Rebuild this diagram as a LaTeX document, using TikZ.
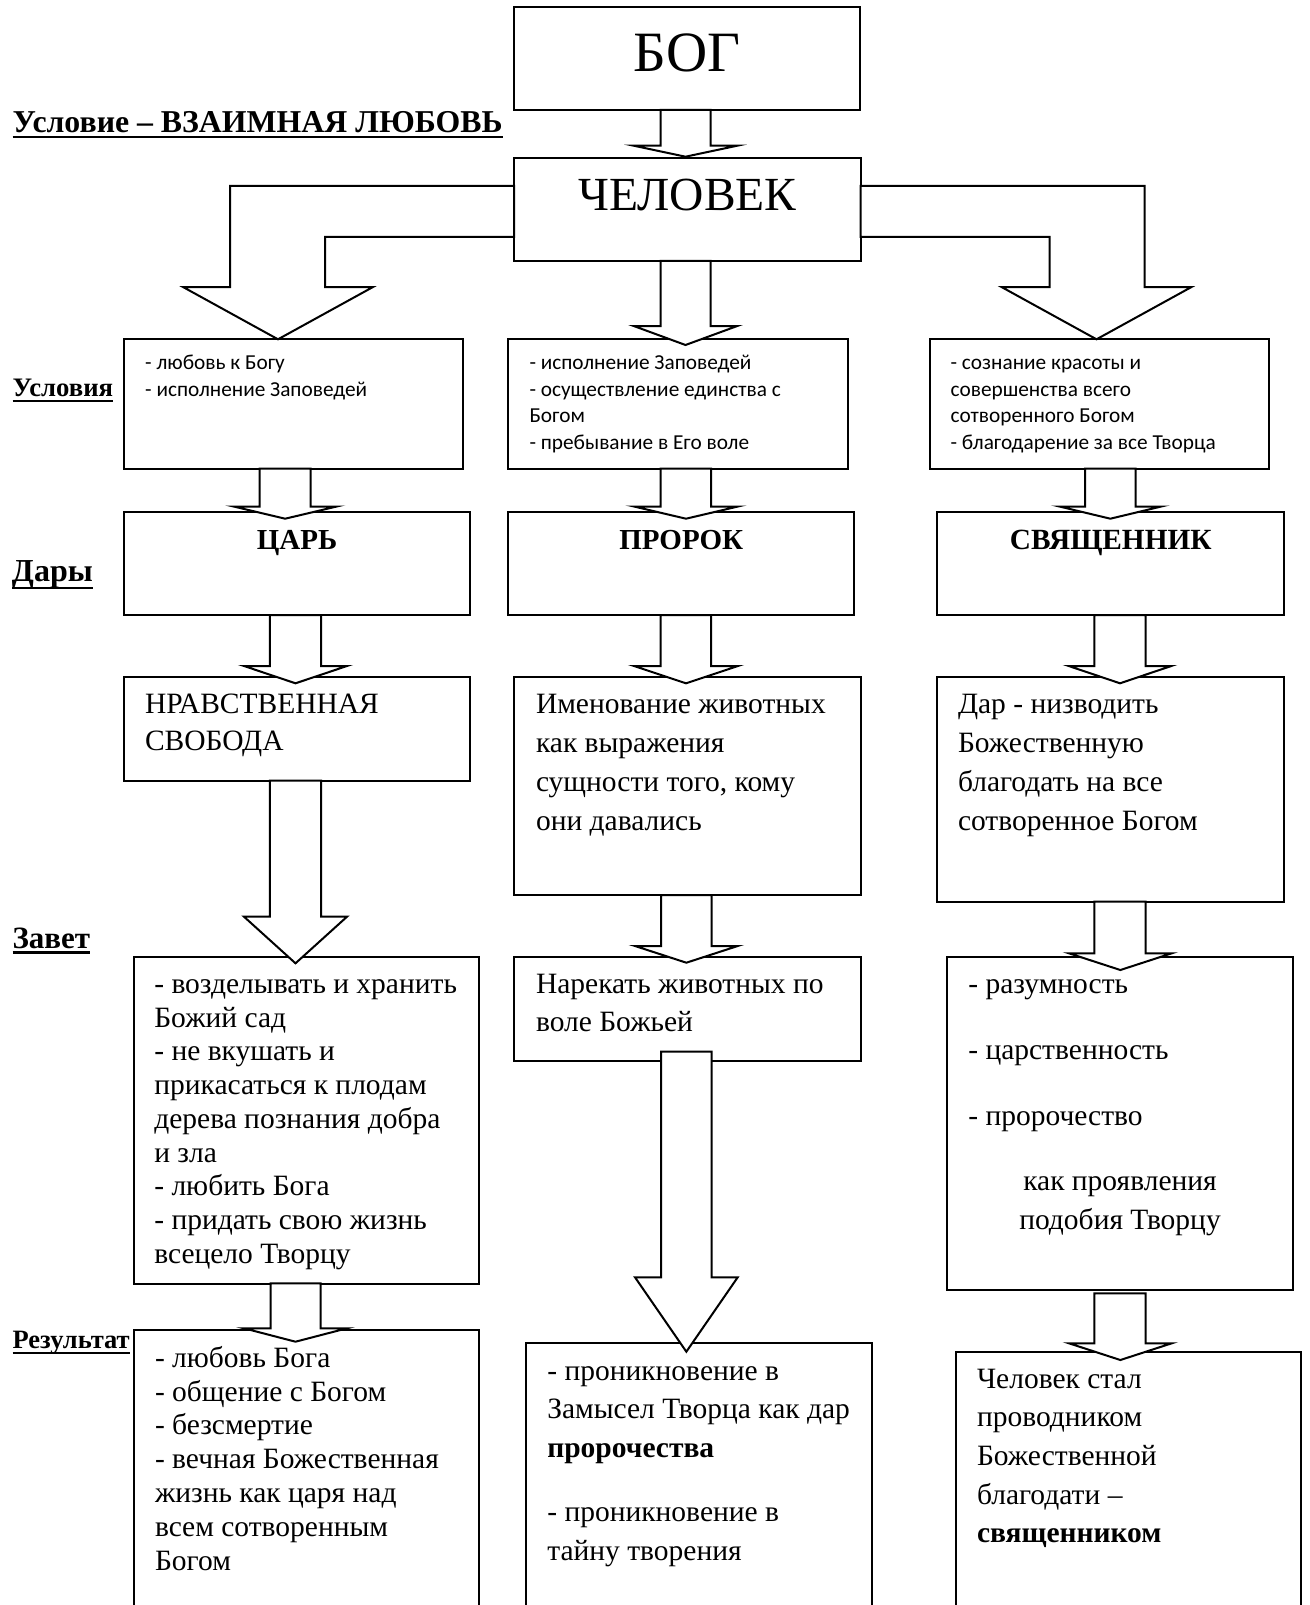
\documentclass[tikz,border=0pt]{standalone}
\usepackage{fontspec}
\setmainfont{Liberation Serif}
\newfontfamily\calfont{Carlito}
\newcommand\fsz[2]{\fontsize{#1pt}{#2pt}\selectfont}
\newcommand\barrow[7]{\draw[arr] (#1,#3) -- (#1,#4) -- (#5,#4) -- ({(#5+#6)/2},#7) -- (#6,#4) -- (#2,#4) -- (#2,#3) -- cycle;}
\newcommand\txtpar[4]{\parbox[t]{#1pt}{\raggedright\fsz{#2}{#3}#4}}
\tikzset{
  box/.style={draw, line width=2pt, fill=white, inner sep=0, outer sep=0, anchor=north west},
  arr/.style={draw, line width=2pt, fill=white, line join=miter},
  txt/.style={anchor=base west, inner sep=0, outer sep=0},
  ctxt/.style={anchor=base, inner sep=0, outer sep=0},
  lab/.style={anchor=base west, inner sep=0, outer sep=0, font=\bfseries},
  uline/.style={line width=2.4pt}
}
\begin{document}
\begin{tikzpicture}[x=1pt,y=-1pt]
\useasboundingbox (0,0) rectangle (1309,1605);
\fill[white] (0,0) rectangle (1309,1605);
\clip (0,0) rectangle (1309,1605);

% ---------- boxes ----------
\node[box, minimum width=346pt, minimum height=102.7pt] (bog) at (514,7.3) {};
\node[box, minimum width=346.6pt, minimum height=103pt] (chel) at (514,158) {};

\node[box, minimum width=339pt, minimum height=129.4pt] (cl) at (124,339.3) {};
\node[box, minimum width=339.4pt, minimum height=129.4pt] (cm) at (508.4,339.3) {};
\node[box, minimum width=339pt, minimum height=129.4pt] (cr) at (930,339.3) {};

\node[box, minimum width=346pt, minimum height=103.3pt] (gl) at (124,511.7) {};
\node[box, minimum width=345.6pt, minimum height=103.3pt] (gm) at (508.4,511.7) {};
\node[box, minimum width=346.6pt, minimum height=103.3pt] (gr) at (937.4,511.7) {};

\node[box, minimum width=346pt, minimum height=104pt] (sl) at (124,676.7) {};
\node[box, minimum width=346.7pt, minimum height=218.3pt] (sm) at (514.3,676.7) {};
\node[box, minimum width=346.6pt, minimum height=225pt] (sr) at (937.4,676.7) {};

\node[box, minimum width=345.2pt, minimum height=327.3pt] (zl) at (133.8,956.5) {};
\node[box, minimum width=346.7pt, minimum height=104.5pt] (zm) at (514.3,956.5) {};
\node[box, minimum width=346pt, minimum height=333.5pt] (zr) at (947.3,956.5) {};

\node[box, minimum width=345.2pt, minimum height=300pt] (rl) at (133.8,1330) {};
\node[box, minimum width=345.7pt, minimum height=300pt] (rm) at (526,1342.7) {};
\node[box, minimum width=345.3pt, minimum height=300pt] (rr) at (955.7,1351.7) {};

% ---------- block arrows ----------
\barrow{660.5}{710.5}{110}{145.7}{633.7}{737.3}{156.7}
\barrow{660.5}{710.5}{261}{326}{633.7}{737.3}{345}
\draw[arr] (514,186) -- (230,186) -- (230,287) -- (183,287) -- (278,339.3) -- (373,287) -- (325,287) -- (325,237) -- (514,237) -- cycle;
\draw[arr] (860.6,186) -- (1144.7,186) -- (1144.7,287) -- (1191.5,287) -- (1096.5,339.3) -- (1001.5,287) -- (1049.6,287) -- (1049.6,237) -- (860.6,237) -- cycle;

\barrow{259.7}{310.6}{468.7}{506.5}{233.6}{336.7}{518.7}
\barrow{660.5}{711.2}{468.7}{506.5}{634}{738}{518.7}
\barrow{1085}{1135.7}{468.7}{506.5}{1059.4}{1161.3}{518.7}

\barrow{269.8}{321}{615}{666}{244}{347}{683.3}
\barrow{660.5}{711.2}{615}{666}{634}{738}{683.3}
\barrow{1094.4}{1145.5}{615}{666}{1068.7}{1171.3}{683.3}

\barrow{269.8}{321}{780.7}{916.7}{244}{347}{963.3}
\barrow{661}{711.7}{895}{946}{635}{737.7}{962.7}
\barrow{1094.4}{1145.5}{901.7}{953.3}{1069}{1171.7}{970}

\barrow{270.5}{320.7}{1283.3}{1328.3}{244}{347}{1341.7}
\barrow{661}{711.7}{1051.7}{1277.3}{635}{737.7}{1351.7}
\barrow{1094.3}{1145.7}{1293.3}{1343.3}{1069}{1171.7}{1360}

% ---------- titles ----------
\node[ctxt, font=\fsz{57}{57}] (tbog) at (687,72) {БОГ};
\node[ctxt, font=\fsz{47.5}{47.5}] (tchel) at (687.3,211) {ЧЕЛОВЕК};

% ---------- side labels ----------
\node[lab, font=\bfseries\fsz{31.8}{31.8}] (l0) at (12.6,132.5) {Условие – ВЗАИМНАЯ ЛЮБОВЬ};
\draw[uline] ([yshift=-4.5pt]l0.base west) -- ([yshift=-4.5pt]l0.base east);
\node[lab, font=\bfseries\fsz{26.7}{26.7}] (l1) at (12.6,396.7) {Условия};
\draw[uline] ([yshift=-4pt]l1.base west) -- ([yshift=-4pt]l1.base east);
\node[lab, font=\bfseries\fsz{32}{32}] (l2) at (12,581) {Дары};
\draw[uline] ([yshift=-7pt]l2.base west) -- ([yshift=-7pt]l2.base east);
\node[lab, font=\bfseries\fsz{31}{31}] (l3) at (12.6,948.5) {Завет};
\draw[uline] ([yshift=-4pt]l3.base west) -- ([yshift=-4pt]l3.base east);
\node[lab, font=\bfseries\fsz{26.5}{26.5}] (l4) at (12.6,1348) {Результат};
\draw[uline] ([yshift=-5pt]l4.base west) -- ([yshift=-5pt]l4.base east);

% ---------- conditions ----------
\node[txt] (tcl) at (145.2,369.5) {\txtpar{330}{21.3}{26.7}{\calfont - любовь к Богу\\- исполнение Заповедей}};
\node[txt] (tcm) at (529.5,369.5) {\txtpar{330}{21.3}{26.7}{\calfont - исполнение Заповедей\\- осуществление единства с\\Богом\\- пребывание в Его воле}};
\node[txt] (tcr) at (950.6,369.5) {\txtpar{330}{21.3}{26.7}{\calfont - сознание красоты и\\совершенства всего\\сотворенного Богом\\- благодарение за все Творца}};

% ---------- gifts ----------
\node[ctxt, font=\bfseries\fsz{29}{29}] (tgl) at (297,549) {ЦАРЬ};
\node[ctxt, font=\bfseries\fsz{29}{29}] (tgm) at (681.2,549) {ПРОРОК};
\node[ctxt, font=\bfseries\fsz{29.3}{29.3}] (tgr) at (1110.7,549) {СВЯЩЕННИК};

% ---------- third row ----------
\node[txt] (tsl) at (145,713.3) {\txtpar{320}{29.5}{36.7}{НРАВСТВЕННАЯ\\СВОБОДА}};
\node[txt] (tsm) at (536,713.3) {\txtpar{320}{29.5}{38.9}{Именование животных\\как выражения\\сущности того, кому\\они давались}};
\node[txt] (tsr) at (958,713.3) {\txtpar{320}{29.5}{38.9}{Дар - низводить\\Божественную\\благодать на все\\сотворенное Богом}};

% ---------- covenant ----------
\node[txt] (tzl) at (154.3,993.3) {\txtpar{320}{29.5}{33.75}{- возделывать и хранить\\Божий сад\\- не вкушать и\\прикасаться к плодам\\дерева познания добра\\и зла\\- любить Бога\\- придать свою жизнь\\всецело Творцу}};
\node[txt] (tzm) at (536,993) {\txtpar{320}{29.5}{38.7}{Нарекать животных по\\воле Божьей}};
\node[txt] (tzr) at (968.3,993.3) {\txtpar{320}{29.5}{65.9}{- разумность\\- царственность\\- пророчество}};
\node[ctxt] (tzr2) at (1120,1190) {\parbox[t]{320pt}{\centering\fsz{29.5}{39.3}как проявления\\подобия Творцу}};

% ---------- results ----------
\node[txt] (trl) at (155,1367.3) {\txtpar{320}{29.5}{33.8}{- любовь Бога\\- общение с Богом\\- безсмертие\\- вечная Божественная\\жизнь как царя над\\всем сотворенным\\Богом}};
\node[txt] (trm) at (547.3,1380) {\txtpar{320}{29.5}{38.7}{- проникновение в\\Замысел Творца как дар\\\textbf{пророчества}\\[25.7pt]- проникновение в\\тайну творения}};
\node[txt] (trr) at (977,1388) {\txtpar{320}{29.5}{38.7}{Человек стал\\проводником\\Божественной\\благодати –\\\textbf{священником}}};
\end{tikzpicture}
\end{document}
